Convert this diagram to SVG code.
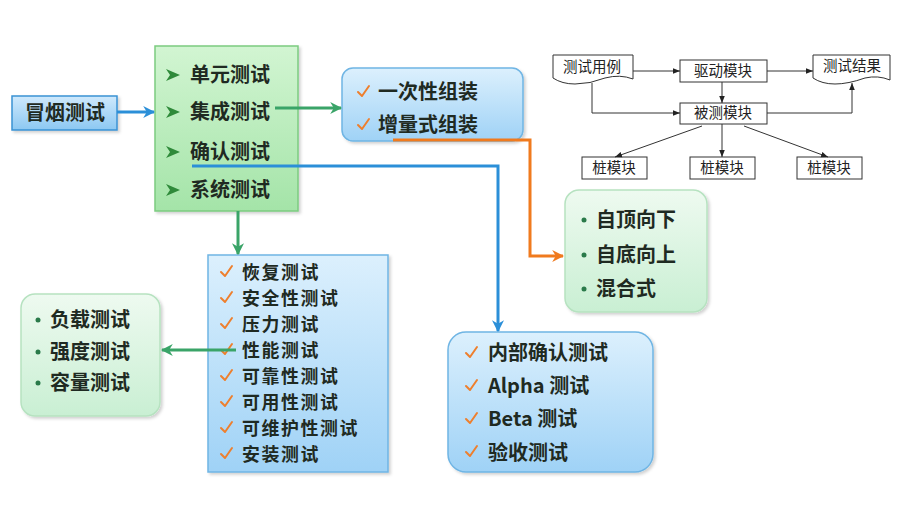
<svg xmlns="http://www.w3.org/2000/svg" width="905" height="515" viewBox="0 0 905 515">
<style>
.t{font-family:"Noto Sans CJK SC","Noto Sans",sans-serif;font-weight:bold;font-size:20px;fill:#1f2a22}
.s{font-size:17.9px;letter-spacing:1.6px}
.f{font-family:"Noto Sans CJK SC","Noto Sans",sans-serif;font-size:14.5px;fill:#222}
.fb{fill:#fff;stroke:#333;stroke-width:1}
.fl{fill:none;stroke:#333;stroke-width:1}
.chk{fill:none;stroke:#ee7f2d;stroke-width:2;stroke-linecap:round;stroke-linejoin:round}
.bul{fill:#2a7a4a}
.chev{fill:#2f8a3a}
</style>
<defs>
<linearGradient id="gBlue" x1="0" y1="0" x2="0" y2="1"><stop offset="0" stop-color="#dcf0fd"/><stop offset="1" stop-color="#9fd2f6"/></linearGradient>
<linearGradient id="gBlue2" x1="0" y1="0" x2="0" y2="1"><stop offset="0" stop-color="#cfe9fc"/><stop offset="1" stop-color="#8cc8f2"/></linearGradient>
<linearGradient id="gGreen" x1="0" y1="0" x2="0" y2="1"><stop offset="0" stop-color="#d2f5d2"/><stop offset="1" stop-color="#a4e4a8"/></linearGradient>
<linearGradient id="gGreenL" x1="0" y1="0" x2="0" y2="1"><stop offset="0" stop-color="#eefaf0"/><stop offset="1" stop-color="#c9efd3"/></linearGradient>
<filter id="sh" x="-10%" y="-10%" width="125%" height="125%"><feDropShadow dx="2" dy="2" stdDeviation="1.5" flood-color="#000" flood-opacity="0.18"/></filter>
<marker id="aBlue" viewBox="0 0 10 10" refX="9" refY="5" markerWidth="4" markerHeight="4" orient="auto"><path d="M0,0 L10,5 L0,10 L3,5 Z" fill="#2b8fd8"/></marker>
<marker id="aGreen" viewBox="0 0 10 10" refX="9" refY="5" markerWidth="4" markerHeight="4" orient="auto"><path d="M0,0 L10,5 L0,10 L3,5 Z" fill="#3aa468"/></marker>
<marker id="aOrange" viewBox="0 0 10 10" refX="9" refY="5" markerWidth="4" markerHeight="4" orient="auto"><path d="M0,0 L10,5 L0,10 L3,5 Z" fill="#f07a1e"/></marker>
<marker id="aBlk" viewBox="0 0 10 10" refX="10" refY="5" markerWidth="7" markerHeight="7" orient="auto" markerUnits="userSpaceOnUse"><path d="M0,1 L10,5 L0,9 Z" fill="#222"/></marker>
</defs>
<rect width="905" height="515" fill="#fff"/>

<g id="smoke">
<rect x="12" y="96" width="105" height="34" fill="url(#gBlue2)" stroke="#3a92d4" stroke-width="1.5" filter="url(#sh)"/>
<text class="t" x="65" y="120" text-anchor="middle" font-size="21">冒烟测试</text>
</g>

<g id="levels">
<rect x="155" y="46" width="143" height="165" fill="url(#gGreen)" stroke="#7ccb80" stroke-width="1.5" filter="url(#sh)"/>
<path class="chev" d="M166,69 L180,75 L166,81 L170,75 Z"/>
<text class="t" x="190" y="82">单元测试</text>
<path class="chev" d="M166,106 L180,112 L166,118 L170,112 Z"/>
<text class="t" x="190" y="119">集成测试</text>
<path class="chev" d="M166,146 L180,152 L166,158 L170,152 Z"/>
<text class="t" x="190" y="159">确认测试</text>
<path class="chev" d="M166,184 L180,190 L166,196 L170,190 Z"/>
<text class="t" x="190" y="197">系统测试</text>
</g>

<g id="assembly">
<rect x="342" y="68" width="181" height="73" rx="11" fill="url(#gBlue)" stroke="#6fb5e4" stroke-width="1.5" filter="url(#sh)"/>
<path class="chk" d="M358,92 L362,96 L369,86"/>
<text class="t" x="378" y="99" font-size="21">一次性组装</text>
<path class="chk" d="M358,125 L362,129 L369,119"/>
<text class="t" x="378" y="132" font-size="21">增量式组装</text>
</g>

<g id="incremental">
<rect x="565" y="190" width="142" height="122" rx="14" fill="url(#gGreenL)" stroke="#b6e2c0" stroke-width="1.5" filter="url(#sh)"/>
<circle class="bul" cx="584" cy="220" r="2.5"/>
<text class="t" x="596" y="227" font-size="21">自顶向下</text>
<circle class="bul" cx="584" cy="255" r="2.5"/>
<text class="t" x="596" y="262" font-size="21">自底向上</text>
<circle class="bul" cx="584" cy="289" r="2.5"/>
<text class="t" x="596" y="296" font-size="21">混合式</text>
</g>

<g id="acceptance">
<rect x="448" y="332" width="205" height="140" rx="18" fill="url(#gBlue)" stroke="#6fb5e4" stroke-width="1.5" filter="url(#sh)"/>
<path class="chk" d="M466,353 L470,357 L477,347"/>
<text class="t" x="488" y="360" font-size="21">内部确认测试</text>
<path class="chk" d="M466,386 L470,390 L477,380"/>
<text class="t" x="488" y="393" font-size="21">Alpha 测试</text>
<path class="chk" d="M466,419 L470,423 L477,413"/>
<text class="t" x="488" y="426" font-size="21">Beta 测试</text>
<path class="chk" d="M466,452 L470,456 L477,446"/>
<text class="t" x="488" y="460" font-size="21">验收测试</text>
</g>

<g id="system">
<rect x="208" y="255" width="180" height="217" fill="url(#gBlue)" stroke="#6fb5e4" stroke-width="1.5" filter="url(#sh)"/>
<path class="chk" d="M221,272 L225,276 L232,266"/>
<text class="t s" x="242" y="279">恢复测试</text>
<path class="chk" d="M221,298 L225,302 L232,292"/>
<text class="t s" x="242" y="305">安全性测试</text>
<path class="chk" d="M221,324 L225,328 L232,318"/>
<text class="t s" x="242" y="331">压力测试</text>
<path class="chk" d="M221,350 L225,354 L232,344"/>
<text class="t s" x="242" y="357">性能测试</text>
<path class="chk" d="M221,376 L225,380 L232,370"/>
<text class="t s" x="242" y="383">可靠性测试</text>
<path class="chk" d="M221,402 L225,406 L232,396"/>
<text class="t s" x="242" y="409">可用性测试</text>
<path class="chk" d="M221,428 L225,432 L232,422"/>
<text class="t s" x="242" y="435">可维护性测试</text>
<path class="chk" d="M221,454 L225,458 L232,448"/>
<text class="t s" x="242" y="461">安装测试</text>
</g>

<g id="performance">
<rect x="21" y="294" width="139" height="122" rx="14" fill="url(#gGreenL)" stroke="#b6e2c0" stroke-width="1.5" filter="url(#sh)"/>
<circle class="bul" cx="38" cy="320" r="2.5"/>
<text class="t" x="50" y="327" font-size="21">负载测试</text>
<circle class="bul" cx="38" cy="352" r="2.5"/>
<text class="t" x="50" y="359" font-size="21">强度测试</text>
<circle class="bul" cx="38" cy="383" r="2.5"/>
<text class="t" x="50" y="390" font-size="21">容量测试</text>
</g>

<g id="connectors">
<path d="M117,112 H154" fill="none" stroke="#2b8fd8" stroke-width="3" marker-end="url(#aBlue)"/>
<path d="M275,108 H341" fill="none" stroke="#3aa468" stroke-width="3" marker-end="url(#aGreen)"/>
<path d="M393,140 H530 V256 H563" fill="none" stroke="#f07a1e" stroke-width="3" marker-end="url(#aOrange)"/>
<path d="M192,166 H498 V331" fill="none" stroke="#2b8fd8" stroke-width="3" marker-end="url(#aBlue)"/>
<path d="M238,211 V254" fill="none" stroke="#3aa468" stroke-width="3" marker-end="url(#aGreen)"/>
<path d="M236,350 H162" fill="none" stroke="#3aa468" stroke-width="3" marker-end="url(#aGreen)"/>
</g>

<g id="flow-testcase">
<path class="fb" d="M553,55 H633 V79 Q620,74 605,78 Q590,84 575,84 Q562,84 553,78 Z"/>
<text class="f" x="592" y="72" text-anchor="middle">测试用例</text>
</g>
<g id="flow-driver">
<rect class="fb" x="680" y="60" width="87" height="22"/>
<text class="f" x="723" y="76" text-anchor="middle">驱动模块</text>
</g>
<g id="flow-result">
<path class="fb" d="M813,55 H890 V80 Q878,75 865,78 Q848,84 835,84 Q822,84 813,78 Z"/>
<text class="f" x="852" y="71" text-anchor="middle">测试结果</text>
</g>
<g id="flow-unit">
<rect class="fb" x="680" y="103" width="87" height="21"/>
<text class="f" x="723" y="118" text-anchor="middle">被测模块</text>
</g>
<g id="flow-stub1">
<rect class="fb" x="582" y="157" width="65" height="22"/>
<text class="f" x="614" y="173" text-anchor="middle">桩模块</text>
</g>
<g id="flow-stub2">
<rect class="fb" x="690" y="157" width="65" height="22"/>
<text class="f" x="722" y="173" text-anchor="middle">桩模块</text>
</g>
<g id="flow-stub3">
<rect class="fb" x="797" y="157" width="65" height="22"/>
<text class="f" x="829" y="173" text-anchor="middle">桩模块</text>
</g>
<g id="flow-connectors">
<path class="fl" d="M633,71 H680" marker-end="url(#aBlk)"/>
<path class="fl" d="M767,71 H813" marker-end="url(#aBlk)"/>
<path class="fl" d="M722,82 V103" marker-end="url(#aBlk)"/>
<path class="fl" d="M592,83 V113 H680" marker-end="url(#aBlk)"/>
<path class="fl" d="M767,113 H852 V83" marker-end="url(#aBlk)"/>
<path class="fl" d="M702,126 L615,157" marker-end="url(#aBlk)"/>
<path class="fl" d="M722,124 V157" marker-end="url(#aBlk)"/>
<path class="fl" d="M744,126 L828,157" marker-end="url(#aBlk)"/>
</g>
</svg>
